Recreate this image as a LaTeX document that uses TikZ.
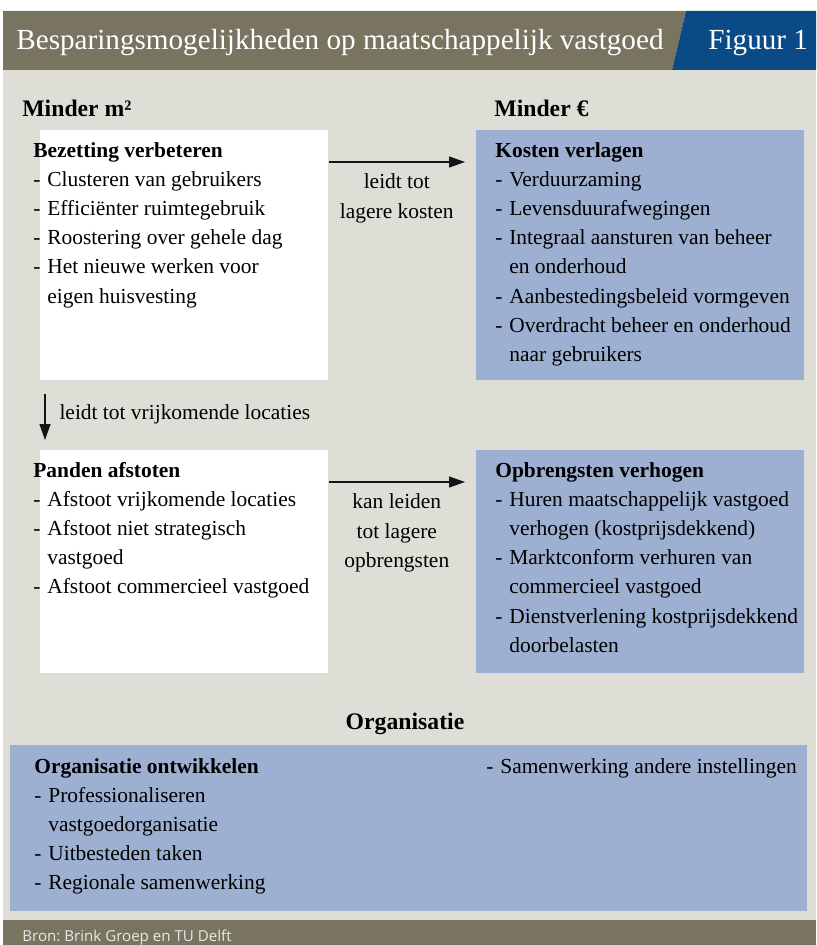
\documentclass[tikz,border=0pt]{standalone}
\usepackage{fontspec}
\setmainfont{Liberation Serif}
\newfontfamily\bronfont{Open Sans}
\usepackage{tikz}
\usetikzlibrary{arrows.meta,calc,positioning}
\usepackage{xcolor}
\definecolor{fgolive}{RGB}{121,116,96}
\definecolor{fgnavy}{RGB}{10,74,135}
\definecolor{fgback}{RGB}{223,222,214}
\definecolor{fgblue}{RGB}{157,176,209}
\definecolor{fgline}{RGB}{20,20,20}
\definecolor{fgbron}{RGB}{232,232,230}
\tikzstyle{whitebox} = [rectangle, anchor=north west, inner sep=0pt, fill=white]
\tikzstyle{bluebox} = [rectangle, anchor=north west, inner sep=0pt, fill=fgblue]
\tikzstyle{listtext} = [anchor=north west, inner sep=0pt, align=left, text=black, font=\fontsize{12.2}{16.6}\selectfont]
\tikzstyle{flowlabel} = [inner sep=0pt, align=center, text=black, font=\fontsize{12.2}{16.6}\selectfont]
\tikzstyle{heading} = [anchor=base west, inner sep=0pt, font=\fontsize{13.5}{16}\selectfont\bfseries]
\tikzstyle{arrow} = [line width=0.6pt, color=fgline, -{Triangle[length=0.32cm,width=0.22cm]}]
\newcommand{\dashitem}[1]{\makebox[0.28cm][l]{-}#1}
\newcommand{\dashcont}[1]{\hspace*{0.28cm}#1}

\begin{document}
\begin{tikzpicture}[x=0.02cm,y=-0.02cm]
\useasboundingbox (0,0) rectangle (816,945);
% Background and bands
\fill[fgback] (3,70) rectangle (816,920);
\fill[fgolive] (3,11) -- (686,11) -- (672,70) -- (3,70) -- cycle;
\fill[fgnavy] (686,11) -- (816,11) -- (816,70) -- (672,70) -- cycle;
\fill[fgolive] (3,920) rectangle (816,945);
\node (titel) [anchor=base west, inner sep=0pt, text=white, font=\fontsize{16.6}{20}\selectfont] at (16,50) {Besparingsmogelijkheden op maatschappelijk vastgoed};
\node (figuur) [anchor=base west, inner sep=0pt, text=white, font=\fontsize{16.6}{20}\selectfont] at (708,50) {Figuur 1};
\node (bron) [anchor=base west, inner sep=0pt, text=fgbron, font=\bronfont\fontsize{8.6}{10}\selectfont\frenchspacing] at (22,941) {Bron: Brink Groep en TU Delft};

% Column headings
\node (minderm) [heading] at (22,117) {Minder m²};
\node (mindereuro) [heading] at (494,117) {Minder €};
\node (orghead) [heading, anchor=base] at (405,729) {Organisatie};

% Boxes
\node (bezet) [whitebox, minimum width=5.76cm, minimum height=5cm] at (40,130) {};
\node (kosten) [bluebox, minimum width=6.56cm, minimum height=5cm] at (476,130) {};
\node (panden) [whitebox, minimum width=5.76cm, minimum height=4.46cm] at (40,450) {};
\node (opbreng) [bluebox, minimum width=6.56cm, minimum height=4.46cm] at (476,450) {};
\node (organ) [bluebox, minimum width=15.94cm, minimum height=3.32cm] at (10,745) {};

% Box contents
\node (bezettxt) [listtext] at (33,136.5) {\strut\textbf{Bezetting verbeteren}\\
  \dashitem{Clusteren van gebruikers}\\
  \dashitem{Efficiënter ruimtegebruik}\\
  \dashitem{Roostering over gehele dag}\\
  \dashitem{Het nieuwe werken voor}\\
  \dashcont{eigen huisvesting}};
\node (kostentxt) [listtext] at (495,136.5) {\strut\textbf{Kosten verlagen}\\
  \dashitem{Verduurzaming}\\
  \dashitem{Levensduurafwegingen}\\
  \dashitem{Integraal aansturen van beheer}\\
  \dashcont{en onderhoud}\\
  \dashitem{Aanbestedingsbeleid vormgeven}\\
  \dashitem{Overdracht beheer en onderhoud}\\
  \dashcont{naar gebruikers}};
\node (pandentxt) [listtext] at (33,456.5) {\strut\textbf{Panden afstoten}\\
  \dashitem{Afstoot vrijkomende locaties}\\
  \dashitem{Afstoot niet strategisch}\\
  \dashcont{vastgoed}\\
  \dashitem{Afstoot commercieel vastgoed}};
\node (opbrengtxt) [listtext] at (495,456.5) {\strut\textbf{Opbrengsten verhogen}\\
  \dashitem{Huren maatschappelijk vastgoed}\\
  \dashcont{verhogen (kostprijsdekkend)}\\
  \dashitem{Marktconform verhuren van}\\
  \dashcont{commercieel vastgoed}\\
  \dashitem{Dienstverlening kostprijsdekkend}\\
  \dashcont{doorbelasten}};
\node (organtxt) [listtext] at (34,752.5) {\strut\textbf{Organisatie ontwikkelen}\\
  \dashitem{Professionaliseren}\\
  \dashcont{vastgoedorganisatie}\\
  \dashitem{Uitbesteden taken}\\
  \dashitem{Regionale samenwerking}};
\node (organtxt2) [listtext] at (486,752.5) {\strut\dashitem{Samenwerking andere instellingen}};

% Arrows
\draw[arrow] ($(bezet.north east)+(0,32)$) -- node[flowlabel, below=3.4pt] {\strut leidt tot\\lagere kosten} ($(kosten.north west)+(-11,32)$);
\draw[arrow] ($(panden.north east)+(0,32)$) -- node[flowlabel, below=3.4pt] {\strut kan leiden\\tot lagere\\opbrengsten} ($(opbreng.north west)+(-11,32)$);
\draw[arrow] ($(bezet.south west)+(5,13)$) -- node[flowlabel, anchor=base west, xshift=0.28cm, yshift=-0.06cm] {leidt tot vrijkomende locaties} ($(panden.north west)+(5,-10)$);
\end{tikzpicture}
\end{document}
